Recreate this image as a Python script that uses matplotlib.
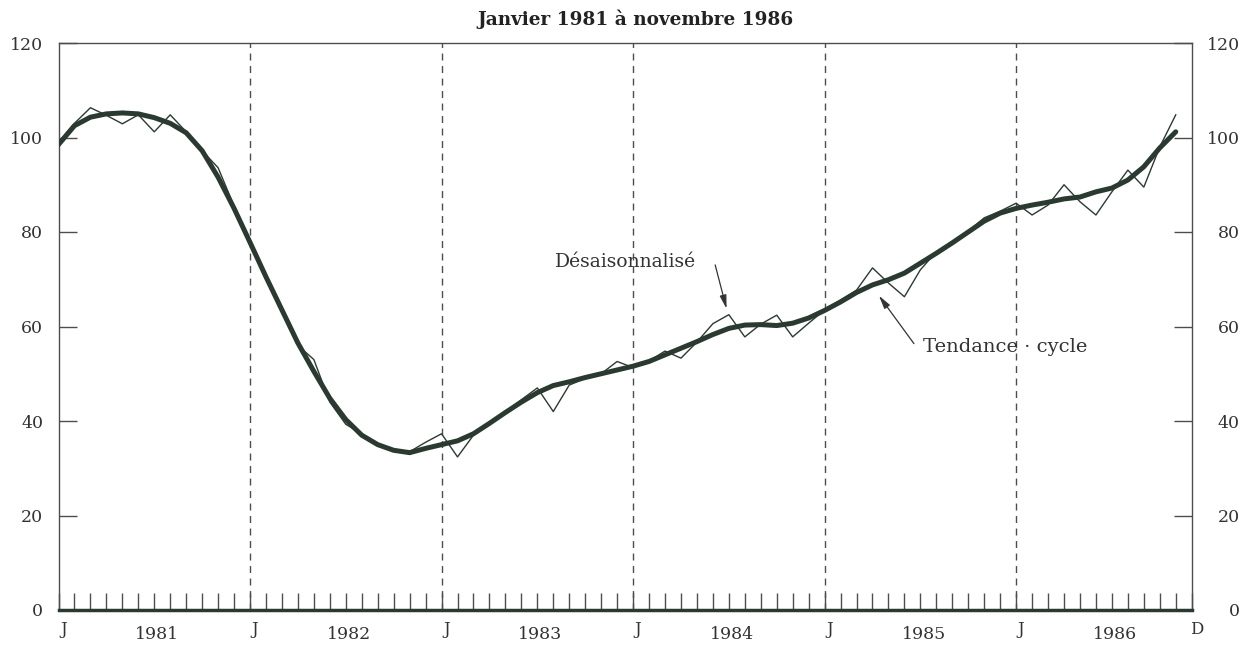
import matplotlib
matplotlib.use("Agg")
import matplotlib.pyplot as plt
import matplotlib.transforms as mtransforms

plt.rcParams['font.family'] = ['DejaVu Serif']

# mois depuis janvier 1981 (0 = J 1981, 70 = novembre 1986)
mois = list(range(71))

tendance = [98.5, 102.5, 104.3, 105.0, 105.2, 105.0, 104.2, 103.0, 101.0, 97.2,
            91.6, 85.0, 77.8, 70.5, 63.5, 56.5, 50.5, 44.8, 40.3, 37.0,
            35.0, 33.8, 33.3, 34.2, 35.0, 35.8, 37.3, 39.5, 41.8, 44.0,
            46.0, 47.5, 48.3, 49.2, 50.0, 50.8, 51.6, 52.6, 54.0, 55.4,
            56.8, 58.3, 59.6, 60.3, 60.4, 60.2, 60.7, 61.8, 63.4, 65.2,
            67.2, 68.8, 69.9, 71.3, 73.4, 75.5, 77.7, 80.0, 82.3, 84.0,
            85.0, 85.7, 86.3, 87.0, 87.4, 88.5, 89.3, 91.0, 93.8, 97.8,
            101.2]

desaison = [99.0, 103.0, 106.3, 104.7, 102.9, 104.8, 101.2, 104.8, 101.2, 97.2,
            93.6, 85.5, 77.8, 70.8, 63.2, 56.0, 53.0, 44.0, 39.3, 37.3,
            35.2, 33.8, 33.5, 35.5, 37.3, 32.4, 37.0, 39.5, 42.0, 44.5,
            47.0, 42.0, 47.6, 49.0, 50.0, 52.6, 51.3, 52.7, 54.8, 53.3,
            56.7, 60.6, 62.5, 57.8, 60.5, 62.4, 57.8, 60.7, 63.5, 65.6,
            67.7, 72.4, 69.2, 66.3, 72.0, 75.8, 77.7, 80.2, 83.0, 84.4,
            86.1, 83.6, 85.7, 90.0, 86.4, 83.6, 88.5, 93.1, 89.5, 98.0,
            104.8]

annees = ['1981', '1982', '1983', '1984', '1985', '1986']
yticks = [0, 20, 40, 60, 80, 100, 120]

couleur = '#2b3a31'
gris = '#4a4f4b'
texte = '#333333'

fig = plt.figure(figsize=(12.48, 6.51), dpi=100)
ax = fig.add_axes([58.5 / 1248, 41 / 651, (1191.7 - 58.5) / 1248, (610 - 43) / 651])

ax.plot(mois, desaison, color=couleur, lw=1.0, zorder=3)
ax.plot(mois, tendance, color=couleur, lw=3.6, solid_capstyle='round', zorder=4)

# lignes pointillées à chaque janvier
for i in range(1, len(annees)):
    ax.axvline(12 * i, color=gris, lw=1.0, ls=(0, (5, 4)), zorder=1)

ax.set_xlim(0, 71)
ax.set_ylim(0, 120)

ax.set_xticks(range(72))
ax.tick_params(axis='x', direction='in', length=12, width=1.0, color=gris,
               labelbottom=False)
ax.set_yticks(yticks)
ax.tick_params(axis='y', direction='in', length=13, width=1.0, color=gris,
               left=True, right=True, labelleft=True, labelright=True,
               labelsize=12.5, labelcolor=texte, pad=11)

# étiquettes de droite alignées à droite
offset = mtransforms.ScaledTranslation(48 / 100 - 11 / 72, 0, fig.dpi_scale_trans)
for t in ax.yaxis.get_major_ticks():
    t.label2.set_horizontalalignment('right')
    t.label2.set_transform(t.label2.get_transform() + offset)

for s in ['left', 'top', 'right']:
    ax.spines[s].set_color(gris)
    ax.spines[s].set_linewidth(1.0)
ax.spines['bottom'].set_color(couleur)
ax.spines['bottom'].set_linewidth(2.5)

# étiquettes de l'axe des x
trans = mtransforms.blended_transform_factory(ax.transData, ax.transAxes)
for i, a in enumerate(annees):
    ax.text(12 * i + 0.3, -0.035, 'J', transform=trans, ha='center', va='center',
            fontsize=12, color=texte)
    ax.text(12 * i + 6.2, -0.043, a, transform=trans, ha='center', va='center',
            fontsize=12.5, color=texte)
ax.text(71.3, -0.035, 'D', transform=trans, ha='center', va='center',
        fontsize=12, color=texte)

fig.text(636 / 1248, 1 - 19 / 651, 'Janvier 1981 à novembre 1986', ha='center',
         va='center', fontsize=13.3, fontweight='bold', color='#222222')

# annotations
ax.text(35.5, 73.6, 'Désaisonnalisé', ha='center', va='center', fontsize=13.5,
        color=texte)
ax.annotate('', xy=(41.9, 63.2), xytext=(41.1, 73.6),
            arrowprops=dict(arrowstyle='-|>,head_length=0.8,head_width=0.2',
                            color=texte, lw=0.9))
ax.text(59.3, 55.7, 'Tendance · cycle', ha='center', va='center', fontsize=14,
        color=texte)
ax.annotate('', xy=(51.3, 67.0), xytext=(53.7, 55.9),
            arrowprops=dict(arrowstyle='-|>,head_length=0.8,head_width=0.2',
                            color=texte, lw=0.9))

fig.savefig('out.png', dpi=100)
